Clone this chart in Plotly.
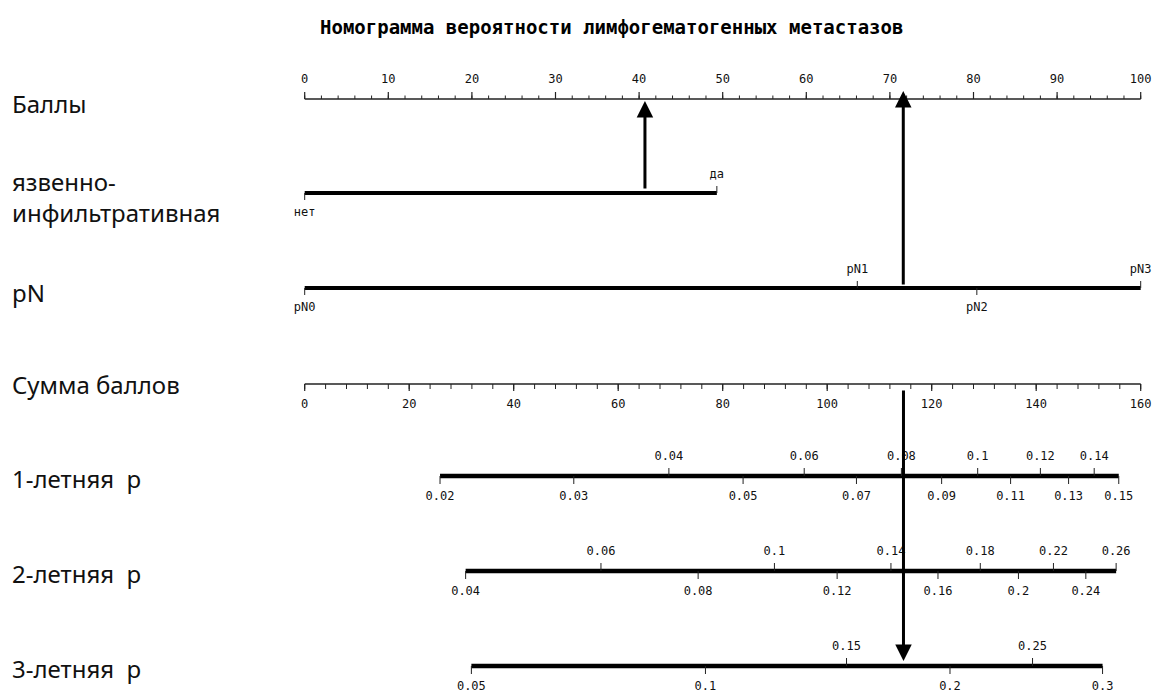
import plotly.graph_objects as go

# ---------------- data ----------------
TITLE = "Номограмма вероятности лимфогематогенных метастазов"
row_labels = ["Баллы", "язвенно-<br>инфильтративная", "pN", "Сумма баллов",
              "1-летняя\u00a0\u00a0p", "2-летняя\u00a0\u00a0p", "3-летняя\u00a0\u00a0p"]

points_major = list(range(0, 101, 10))
points_minor = list(range(0, 101, 2))

ulcer_levels = ["нет", "да"]
ulcer_points = [0, 49.3]
ulcer_side = ["below", "above"]

pn_levels = ["pN0", "pN1", "pN2", "pN3"]
pn_points = [0, 66.1, 80.4, 100]
pn_side = ["below", "above", "below", "above"]

total_major = list(range(0, 161, 20))
total_minor = list(range(0, 161, 4))
TOTAL_MAX = 160

p1_vals = [0.02, 0.03, 0.04, 0.05, 0.06, 0.07, 0.08, 0.09, 0.1, 0.11, 0.12, 0.13, 0.14, 0.15]
p1_tp = [25.9, 51.5, 69.7, 83.9, 95.6, 105.6, 114.2, 121.9, 128.8, 135.1, 140.8, 146.2, 151.1, 155.8]
p1_side = ["below", "below", "above", "below", "above", "below", "above", "below",
           "above", "below", "above", "below", "above", "below"]

p2_vals = [0.04, 0.06, 0.08, 0.1, 0.12, 0.14, 0.16, 0.18, 0.2, 0.22, 0.24, 0.26]
p2_tp = [30.8, 56.7, 75.3, 89.9, 101.9, 112.2, 121.2, 129.3, 136.6, 143.3, 149.5, 155.3]
p2_side = ["below", "above"] * 6

p3_vals = [0.05, 0.1, 0.15, 0.2, 0.25, 0.3]
p3_tp = [31.9, 76.7, 103.7, 123.5, 139.3, 152.7]
p3_side = ["below", "below", "above", "below", "above", "below"]

arrow_points = [40.7, 71.6]     # points read by the example arrows
arrow_total = 114.6             # total points of the example

# ---------------- layout constants ----------------
W, H = 1154, 695
PX_PER_PT = 8.36
X0_PX = 304.7                   # pixel of points = 0
x_lo = -X0_PX / PX_PER_PT
x_hi = x_lo + W / PX_PER_PT

Y_TITLE, Y_PTS, Y_ULC, Y_PN, Y_TOT, Y_P1, Y_P2, Y_P3 = 27, 99, 193, 288, 384, 476, 571, 666
row_y = [103, 197, 292, 384, 478, 573, 668]

MONO = "DejaVu Sans Mono"
TICK_FONT = dict(family=MONO, size=12, color="#111")
LAB_FONT = dict(family="Noto Sans", size=24, color="#111")


def tp2x(t):
    return t * 100.0 / TOTAL_MAX


fig = go.Figure()


def seg_trace(xs, ys, width, color="black"):
    fig.add_trace(go.Scatter(x=xs, y=ys, mode="lines", hoverinfo="skip",
                             line=dict(color=color, width=width), showlegend=False))


def ticks(xvals, y0, length, width, color="black"):
    xs, ys = [], []
    for v in xvals:
        xs += [v, v, None]
        ys += [y0, y0 + length, None]
    seg_trace(xs, ys, width, color)


def labels(xvals, yvals, texts):
    fig.add_trace(go.Scatter(x=xvals, y=yvals, mode="text", text=texts,
                             textposition="middle center", textfont=TICK_FONT,
                             hoverinfo="skip", showlegend=False, cliponaxis=False))


# points axis
seg_trace([0, 100], [Y_PTS, Y_PTS], 1.5, "#222")
ticks(points_minor, Y_PTS, -3.5, 1, "#222")
ticks(points_major, Y_PTS, -7, 1.2, "#222")
labels(points_major, [Y_PTS - 19] * len(points_major), [str(v) for v in points_major])


# categorical variables
def cat_row(pts, names, sides, y):
    seg_trace([min(pts), max(pts)], [y, y], 4, "black")
    up = [p for p, s in zip(pts, sides) if s == "above"]
    dn = [p for p, s in zip(pts, sides) if s == "below"]
    ticks(up, y, -7, 1, "#222")
    ticks(dn, y, 7, 1, "#222")
    labels(pts, [y - 18 if s == "above" else y + 20 for s in sides], names)


cat_row(ulcer_points, ulcer_levels, ulcer_side, Y_ULC)
cat_row(pn_points, pn_levels, pn_side, Y_PN)

# total points axis
seg_trace([tp2x(0), tp2x(TOTAL_MAX)], [Y_TOT, Y_TOT], 1.5, "#222")
ticks([tp2x(v) for v in total_minor], Y_TOT, 5, 1, "#222")
ticks([tp2x(v) for v in total_major], Y_TOT, 7, 1.2, "#222")
labels([tp2x(v) for v in total_major], [Y_TOT + 21] * len(total_major),
       [str(v) for v in total_major])


# probability axes
def prob_row(vals, tps, sides, y):
    xs = [tp2x(t) for t in tps]
    seg_trace([xs[0], xs[-1]], [y, y], 4.5, "black")
    up = [x for x, s in zip(xs, sides) if s == "above"]
    dn = [x for x, s in zip(xs, sides) if s == "below"]
    ticks(up, y, -8, 1, "#222")
    ticks(dn, y, 8, 1, "#222")
    labels(xs, [y - 19 if s == "above" else y + 21 for s in sides], [f"{v:g}" for v in vals])


prob_row(p1_vals, p1_tp, p1_side, Y_P1)
prob_row(p2_vals, p2_tp, p2_side, Y_P2)
prob_row(p3_vals, p3_tp, p3_side, Y_P3)

# example arrows
ann = []
ann.append(dict(x=arrow_points[0], y=Y_PTS + 2, ax=arrow_points[0], ay=Y_ULC - 3,
                xref="x", yref="y", axref="x", ayref="y"))
ann.append(dict(x=arrow_points[1], y=Y_PTS - 8, ax=arrow_points[1], ay=Y_PN - 2,
                xref="x", yref="y", axref="x", ayref="y"))
ann.append(dict(x=tp2x(arrow_total), y=Y_P3 - 5, ax=tp2x(arrow_total), ay=Y_TOT + 5,
                xref="x", yref="y", axref="x", ayref="y"))
for a in ann:
    a.update(text="", showarrow=True, arrowhead=2, arrowsize=1.1, arrowwidth=3,
             arrowcolor="black", standoff=0, startstandoff=0)

# row labels
for t, y in zip(row_labels, row_y):
    ann.append(dict(x=10 / W, y=y, xref="paper", yref="y", text=t, showarrow=False,
                    xanchor="left", yanchor="middle", align="left", font=LAB_FONT))

ann.append(dict(x=611 / W, y=Y_TITLE, xref="paper", yref="y",
                text="<b>" + TITLE + "</b>", showarrow=False, xanchor="center",
                yanchor="middle", font=dict(family=MONO, size=19, color="black")))

fig.update_layout(
    width=W, height=H, margin=dict(l=0, r=0, t=0, b=0),
    paper_bgcolor="white", plot_bgcolor="white",
    xaxis=dict(range=[x_lo, x_hi], visible=False, fixedrange=True),
    yaxis=dict(range=[H, 0], visible=False, fixedrange=True),
    annotations=ann, showlegend=False,
)

fig.write_html("out.html", config={"displayModeBar": False},
               post_script="document.body.style.margin='0';document.body.style.overflow='hidden';")
